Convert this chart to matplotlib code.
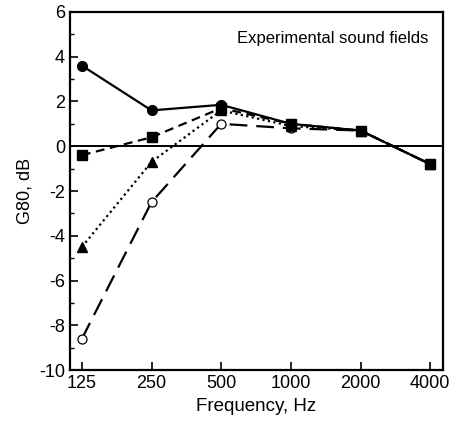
import numpy as np
import matplotlib.pyplot as plt
from matplotlib.ticker import FixedLocator, MultipleLocator

plt.rcParams['font.family'] = ['Liberation Sans', 'DejaVu Sans']
plt.rcParams['axes.unicode_minus'] = False

freqs = [125, 250, 500, 1000, 2000, 4000]
freq_labels = ['125', '250', '500', '1000', '2000', '4000']
g_circle = [3.6, 1.6, 1.85, 1.0, 0.7, -0.8]
g_square = [-0.4, 0.4, 1.7, 1.0, 0.7, -0.8]
g_triangle = [-4.5, -0.7, 1.6, 0.9, 0.7, -0.8]
g_open = [-8.6, -2.5, 1.0, 0.8, 0.7, -0.8]

fig = plt.figure(figsize=(4.54, 4.24), dpi=100)
ax = fig.add_axes([0.154, 0.127, 0.822, 0.845])

ax.axhline(0, color='black', lw=1.4)
# draw open circles first so the filled markers sit on top where they overlap
ax.plot(freqs, g_open, color='black', lw=1.6, ls=(0, (8, 4)), marker='o', ms=6.5,
        mfc='white', mec='black', mew=0.9)
ax.plot(freqs, g_triangle, color='black', lw=1.6, ls=(0, (1, 1.5)), marker='^', ms=7.5)
ax.plot(freqs, g_square, color='black', lw=1.6, ls=(0, (4, 2.5)), marker='s', ms=6.5)
ax.plot(freqs, g_circle, '-', color='black', lw=1.6, marker='o', ms=7)

ax.set_xscale('log', base=2)
ax.set_xlim(125 * 2 ** (-12 / 70), 4000 * 2 ** (13 / 70))
ax.set_ylim(-10, 6)
ax.xaxis.set_major_locator(FixedLocator(freqs))
ax.xaxis.set_minor_locator(FixedLocator([]))
ax.set_xticklabels(freq_labels)
ax.yaxis.set_major_locator(MultipleLocator(2))
ax.yaxis.set_minor_locator(MultipleLocator(1))
ax.tick_params(direction='in', labelsize=13, width=1.2, length=6, top=False, right=False)
ax.tick_params(which='minor', direction='in', length=3, width=1)
for s in ax.spines.values():
    s.set_linewidth(1.6)

ax.set_xlabel('Frequency, Hz', fontsize=13.5)
ax.set_ylabel('G80, dB', fontsize=13)
ax.text(0.96, 0.925, 'Experimental sound fields', transform=ax.transAxes,
        ha='right', va='center', fontsize=12)

fig.savefig('out.png', dpi=100)
